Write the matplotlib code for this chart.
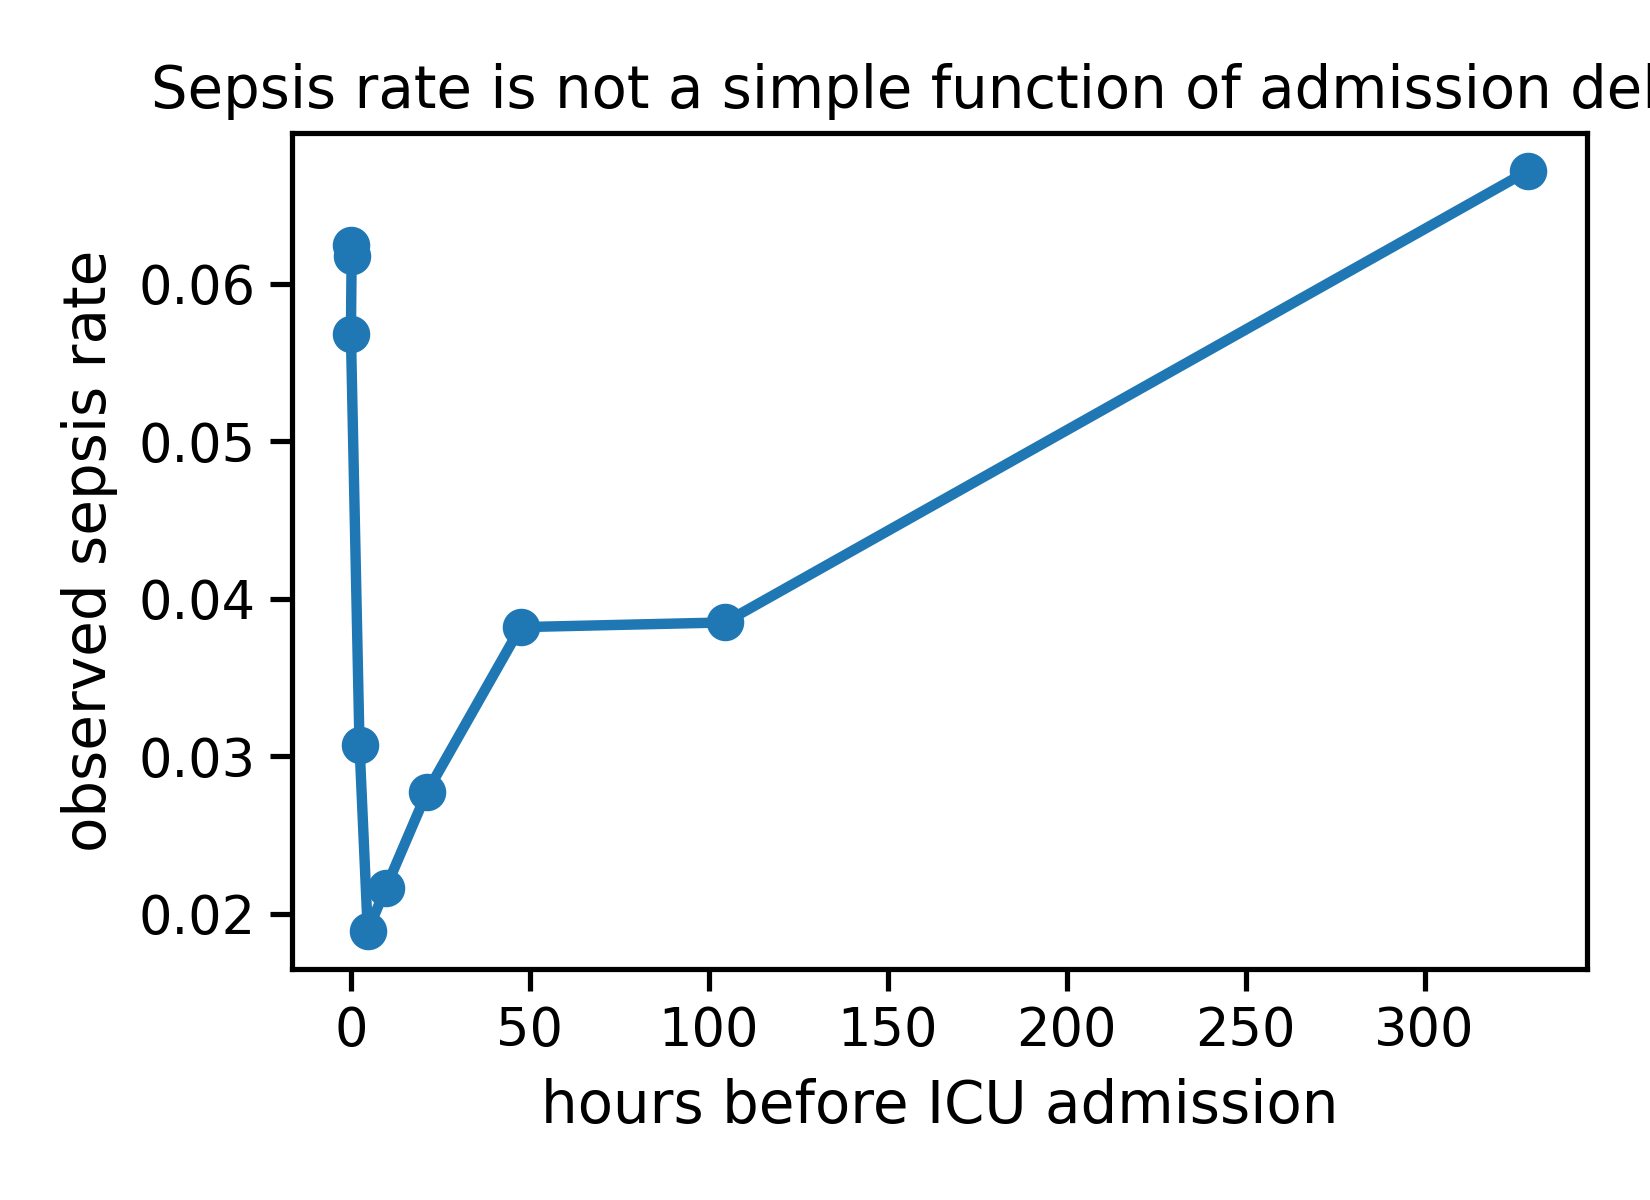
import matplotlib
matplotlib.use("Agg")
import matplotlib.pyplot as plt

# hours before ICU admission vs observed sepsis rate
hours = [0.0, 0.2, 0.0, 2.4, 4.7, 9.7, 21.2, 47.4, 104.5, 329.0]
sepsis_rate = [0.0625, 0.0618, 0.0568, 0.0307, 0.0189, 0.0216, 0.0277, 0.0382, 0.0385, 0.0672]

plt.rcParams['font.family'] = 'DejaVu Sans'

fig = plt.figure(figsize=(5.5, 4), dpi=300)
ax = fig.add_axes([0.177, 0.1925, 0.785, 0.697])

ax.plot(hours, sepsis_rate, '-o', color='#1f77b4', linewidth=2.5, markersize=8)

ax.set_xlabel('hours before ICU admission', fontsize=13.9, labelpad=5)
ax.set_ylabel('observed sepsis rate', fontsize=13.9, labelpad=5)
ax.set_title('Sepsis rate is not a simple function of admission delay', fontsize=13.87)
ax.tick_params(labelsize=12.65, length=5.2, width=1.25)
for s in ax.spines.values():
    s.set_linewidth(1.25)
ax.set_yticks([0.02, 0.03, 0.04, 0.05, 0.06])

fig.savefig('out.png', dpi=300)
